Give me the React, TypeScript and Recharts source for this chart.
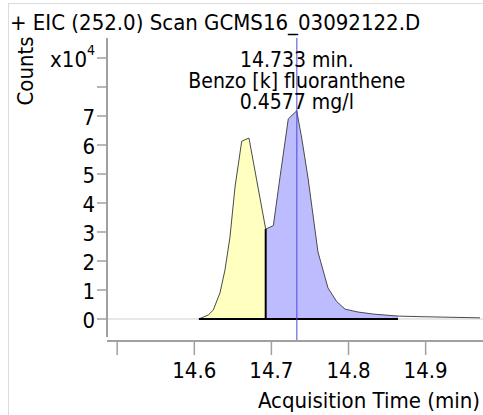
import { ComposedChart, Area, Line, XAxis, YAxis, ReferenceLine, Label } from "recharts";

// EIC trace (time in min, counts in 10^4)
const times = [
  14.6060, 14.6182, 14.6246, 14.6333, 14.6398, 14.6463, 14.6528, 14.6615, 14.6709, 14.6809,
  14.6926, 14.7025, 14.7112, 14.7219, 14.7328, 14.7393, 14.7475, 14.7604, 14.7734, 14.7847,
  14.7955, 14.8123, 14.8318, 14.8642, 14.8927, 14.9705,
];
const counts = [
  0.0, 0.14, 0.31, 0.90, 1.69, 2.83, 4.55, 6.13, 6.24, 4.79,
  3.10, 3.22, 4.90, 6.90, 7.18, 6.24, 4.86, 2.31, 1.07, 0.60,
  0.34, 0.24, 0.17, 0.10, 0.08, 0.04,
];

const SPLIT_TIME = 14.6926;
const END_TIME = 14.8642;
const START_TIME = 14.6060;
const PEAK_TIME = 14.733;

const xTicks = [14.5, 14.6, 14.7, 14.8, 14.9];
const xTickLabels = ["", "14.6", "14.7", "14.8", "14.9"];
const yTicks = [0, 1, 2, 3, 4, 5, 6, 7, 8, 9];
const yTickLabels = ["0", "1", "2", "3", "4", "5", "6", "7", "", "x10"];
const annotation = ["14.733 min.", "Benzo [k] fluoranthene", "0.4577 mg/l"];

const X_MIN = 14.4868;
const X_MAX = 14.9744;
const Y_MIN = -0.759;
const Y_MAX = 9.69;

const FONT = "'DejaVu Sans Condensed', 'DejaVu Sans', sans-serif";
const AXIS = "#a0a0a0";

const data = times.map((t, i) => ({
  t,
  signal: counts[i],
  early: t <= SPLIT_TIME ? counts[i] : null,
  late: t >= SPLIT_TIME && t <= END_TIME ? counts[i] : null,
}));

const YTick = ({ x, y, payload }: any) => {
  const label = yTickLabels[yTicks.indexOf(payload.value)];
  if (label === "x10") {
    return (
      <text x={x} y={y} dy={9} textAnchor="end" fontSize={22} fontFamily={FONT} style={{ fontStretch: "condensed" }} fill="#000">
        x10<tspan dy={-12} fontSize={14}>4</tspan>
      </text>
    );
  }
  return (
    <text x={x} y={y} dy={9} textAnchor="end" fontSize={22} fontFamily={FONT} style={{ fontStretch: "condensed" }} fill="#000">
      {label}
    </text>
  );
};

const PeakLabel = ({ viewBox }: any) => (
  <text textAnchor="middle" fontSize={21} fontFamily={FONT} style={{ fontStretch: "condensed" }} fill="#000">
    {annotation.map((s, i) => (
      <tspan key={i} x={viewBox.x} y={viewBox.y + 29 + i * 21}>{s}</tspan>
    ))}
  </text>
);

export default function App() {
  return (
    <div style={{ position: "absolute", left: 0, top: 0, width: 483, height: 415, background: "#fff" }}>
      <div style={{ position: "absolute", left: 8, top: 3, right: 0, bottom: 0, borderLeft: "1px solid #dcdcdc", borderTop: "1px solid #dcdcdc" }} />
      <svg width={483} height={40} style={{ position: "absolute", left: 0, top: 0 }}>
        <text x={10} y={30} fontSize={22} fontFamily={FONT} style={{ fontStretch: "condensed" }} fill="#000">
          + EIC (252.0) Scan GCMS16_03092122.D
        </text>
      </svg>
      <ComposedChart
        width={483}
        height={415}
        data={data}
        margin={{ top: 38, right: 0, bottom: 0, left: 0 }}
        style={{ position: "absolute", left: 0, top: 0 }}
      >
        <XAxis
          dataKey="t"
          type="number"
          domain={[X_MIN, X_MAX]}
          ticks={xTicks}
          tickFormatter={(v) => xTickLabels[xTicks.indexOf(v)]}
          allowDataOverflow
          height={74}
          tickSize={14}
          tickMargin={7}
          axisLine={{ stroke: AXIS, strokeWidth: 2 }}
          tickLine={{ stroke: AXIS, strokeWidth: 1.5 }}
          tick={{ fill: "#000", fontSize: 22, fontFamily: FONT, style: { fontStretch: "condensed" } }}
        >
          <Label
            content={({ viewBox }: any) => (
              <text x={viewBox.x + viewBox.width - 3} y={viewBox.y + viewBox.height - 7} textAnchor="end" fontSize={22} fontFamily={FONT} style={{ fontStretch: "condensed" }} fill="#000">
                Acquisition Time (min)
              </text>
            )}
          />
        </XAxis>
        <YAxis
          type="number"
          domain={[Y_MIN, Y_MAX]}
          ticks={yTicks}
          allowDataOverflow
          width={107}
          tickSize={10}
          tickMargin={2}
          axisLine={false}
          tickLine={{ stroke: AXIS, strokeWidth: 1.5 }}
          tick={<YTick />}
        >
          <Label
            content={() => (
              <text x={33} y={71} textAnchor="middle" transform="rotate(-90, 33, 71)" fontSize={22} fontFamily={FONT} style={{ fontStretch: "condensed" }} fill="#000">
                Counts
              </text>
            )}
          />
        </YAxis>
        <ReferenceLine y={0} stroke="#d0d0d0" strokeWidth={1} />
        <ReferenceLine
          segment={[{ x: X_MIN, y: -0.62 }, { x: X_MIN, y: Y_MAX }]}
          stroke={AXIS}
          strokeWidth={2}
          ifOverflow="visible"
        />
        <Area dataKey="early" type="linear" fill="#ffffc0" fillOpacity={1} stroke="none" baseValue={0} isAnimationActive={false} />
        <Area dataKey="late" type="linear" fill="#bcbcff" fillOpacity={1} stroke="none" baseValue={0} isAnimationActive={false} />
        <Line dataKey="signal" type="linear" stroke="#4a4a4a" strokeWidth={1} dot={false} activeDot={false} isAnimationActive={false} />
        <ReferenceLine segment={[{ x: START_TIME, y: 0 }, { x: END_TIME, y: 0 }]} stroke="#000" strokeWidth={2} />
        <ReferenceLine segment={[{ x: SPLIT_TIME, y: 0 }, { x: SPLIT_TIME, y: 3.10 }]} stroke="#000" strokeWidth={2} />
        <ReferenceLine x={PEAK_TIME} stroke="#4848e0" strokeWidth={1} label={<PeakLabel />} />
      </ComposedChart>
    </div>
  );
}
